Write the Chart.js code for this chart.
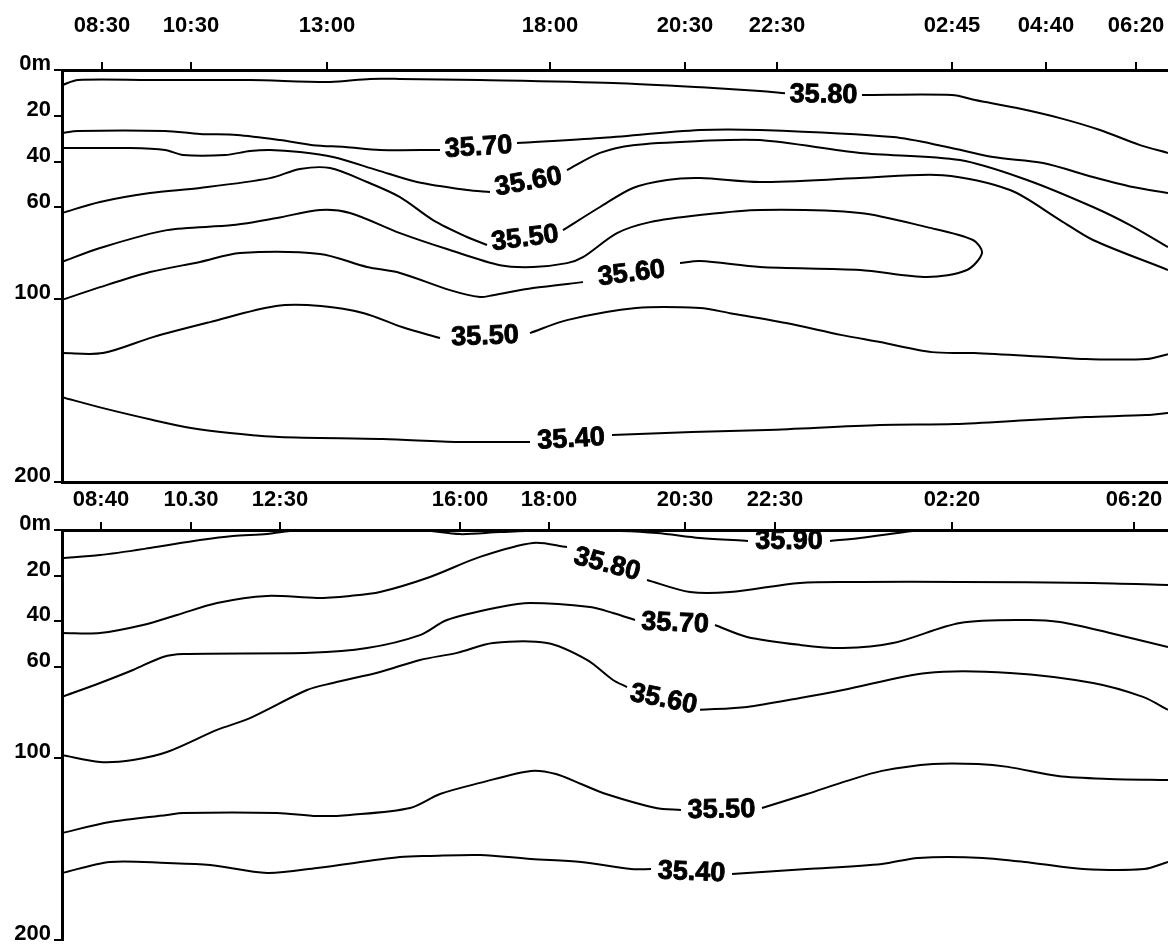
<!DOCTYPE html>
<html>
<head>
<meta charset="utf-8">
<script src="https://cdn.jsdelivr.net/npm/chart.js@4/dist/chart.umd.min.js"></script>
<style>
  html, body { margin: 0; padding: 0; background: #fff; }
  #wrap { position: relative; width: 1168px; height: 944px; overflow: hidden; }
  .panel { position: absolute; left: 0; width: 1168px; }
  #top { top: 0; height: 485px; }
  #bottom { top: 485px; height: 459px; }
</style>
</head>
<body>
<div id="wrap">
  <div class="panel" id="top"><canvas id="topChart" width="1168" height="485"></canvas></div>
  <div class="panel" id="bottom"><canvas id="bottomChart" width="1168" height="459"></canvas></div>
</div>
<script>
// station positions along the section (arbitrary distance units) and their times
const topTickPos = [4.0, 12.9, 26.5, 48.8, 62.3, 71.5, 89.0, 98.4, 107.4];
const topTickTimes = ['08:30', '10:30', '13:00', '18:00', '20:30', '22:30', '02:45', '04:40', '06:20'];
const bottomTickPos = [3.9, 12.9, 21.8, 39.8, 48.7, 62.3, 71.3, 89.0, 107.2];
const bottomTickTimes = ['08:40', '10.30', '12:30', '16:00', '18:00', '20:30', '22:30', '02:20', '06:20'];
const depthTicks = [0, 20, 40, 60, 100, 200];

// salinity contours as [distance, depth m]; null = gap where the level is written
const top3580 = [[0,6.6],[1.6,4.4],[8.8,4.4],[18.8,4.4],[26.8,5.2],[30.8,3.9],[33.8,3.9],[41.8,4.4],[55.1,5.7],[65.1,7.9],[69.8,9.2],[72.3,10.1],null,[80.0,10.9],[89.0,10.9],[91.3,13.1],[95.5,16.6],[99.8,21.0],[103.8,26.2],[107.8,32.8],[110.6,36.2]];
const top3570 = [[0,27.5],[1.6,26.6],[10.3,26.6],[13.8,27.9],[17.5,28.4],[21.8,30.6],[25.1,32.8],[28.3,33.6],[31.8,34.9],[37.8,34.9],null,[45.5,31.9],[53.8,29.7],[63.8,26.2],[69.8,26.2],[83.1,29.3],[88.5,33.6],[93.1,38.0],[98.1,40.6],[103.1,46.7],[107.1,51.1],[110.6,53.7]];
const top3560a = [[0,34.1],[6.8,34.1],[10.3,34.9],[12.1,37.1],[16.3,37.1],[18.8,35.4],[20.8,34.9],[23.8,35.8],[27.1,38.0],[31.5,43.7],[35.5,48.9],[40.5,52.4],[42.8,53.3],null,[50.5,43.7],[53.8,36.2],[57.1,32.8],[63.8,31.0],[69.8,30.6],[79.8,36.2],[89.8,39.3],[96.5,48.0],[103.1,59.8],[106.8,67.7],[110.6,77.3]];
const top3550a = [[0,62.4],[3.8,57.6],[8.8,53.7],[13.8,51.5],[20.8,47.2],[23.8,43.2],[26.8,42.8],[30.5,48.9],[33.8,55.5],[37.1,65.5],[40.5,72.9],[42.5,76.4],null,[50.1,69.9],[53.8,59.8],[57.1,51.5],[60.5,48.0],[63.8,47.2],[69.8,48.9],[79.8,47.2],[88.1,45.9],[94.8,52.4],[99.8,65.5],[103.1,74.2],[110.6,87.3]];
const top3560b = [[0,83.8],[3.8,77.7],[10.5,69.9],[17.1,67.7],[21.5,64.6],[25.8,61.1],[28.8,62.4],[33.8,71.2],[38.8,78.6],[43.8,85.2],[47.1,86.0],[50.5,84.3],[52.1,81.7],[55.5,71.2],[58.8,66.4],[63.8,63.3],[69.8,61.1],[79.8,62.4],[86.5,68.6],[91.1,74.2],[92.0,79.9],[90.5,87.3],[86.5,90.4],[79.8,87.3],[69.8,86.0],[63.8,83.4],[61.8,84.3],null,[52.1,92.6],[47.1,95.2],[43.1,98.3],[41.8,99.1],[38.8,96.1],[33.8,88.6],[30.5,86.0],[25.8,80.3],[17.8,79.9],[13.8,83.8],[8.8,88.2],[3.8,94.8],[0,100.5]];
const top3550b = [[0,129.5],[4.1,129.5],[9.1,120.8],[14.8,112.6],[21.4,103.8],[25.9,103.8],[30.2,107.7],[34.0,115.3],[37.8,121.3],null,[46.8,118.6],[50.5,111.5],[57.4,104.9],[63.8,104.9],[66.8,107.7],[72.4,113.1],[78.0,119.7],[81.8,123.5],[87.0,129.0],[91.2,129.5],[98.7,131.7],[102.4,132.8],[108.4,132.8],[110.6,130.1]];
const top3540 = [[0,153.6],[4.1,159.6],[9.1,166.1],[12.9,170.5],[16.8,173.2],[21.7,175.4],[32.1,176.5],[39.7,178.1],[46.8,178.1],null,[55.0,174.3],[63.0,172.7],[70.5,171.6],[81.8,168.9],[89.3,168.3],[96.8,166.1],[102.4,164.5],[108.4,163.4],[110.6,162.3]];

const bot3590 = [[0,12.3],[3.8,11.0],[8.8,7.9],[13.8,4.4],[17.1,2.6],[20.5,1.8],[22.8,0.4],[26.8,0],[35.8,0],[39.8,1.8],[43.8,0.9],[49.8,0],[55.8,0.4],[59.5,1.3],[63.8,3.5],[68.6,4.8],null,[76.8,4.8],[79.8,3.5],[85.1,0.4],[86.8,0]];
const bot3580 = [[0,45.2],[3.8,45.2],[8.1,41.7],[11.5,37.3],[15.5,32.0],[20.5,28.9],[25.5,29.8],[28.8,28.9],[31.8,27.2],[36.8,20.6],[41.8,11.8],[47.1,5.7],[50.5,7.5],null,[58.5,21.9],[62.8,27.2],[66.8,27.2],[73.8,23.2],[79.8,22.8],[89.8,22.8],[103.1,23.2],[110.6,24.1]];
const bot3570 = [[0,73.2],[3.8,67.1],[7.1,61.4],[10.1,55.7],[12.1,54.4],[24.8,53.9],[30.5,51.8],[35.8,46.1],[38.5,39.5],[43.8,33.8],[46.8,32.0],[52.8,33.8],[55.1,36.4],[57.3,39.5],null,[65.3,41.7],[68.5,46.9],[73.8,50.4],[78.1,51.8],[83.1,49.6],[89.8,40.8],[96.5,39.5],[99.8,40.4],[104.8,45.2],[110.6,51.3]];
const bot3560 = [[0,98.7],[3.8,102.2],[7.1,101.1],[10.5,97.4],[15.5,87.7],[18.8,82.5],[24.5,70.2],[27.1,67.1],[31.8,62.3],[35.8,57.0],[39.5,53.9],[43.1,49.6],[48.5,49.6],[52.5,57.0],[55.1,65.8],[56.5,68.9],null,[63.8,78.9],[68.5,77.6],[73.8,73.7],[78.1,70.2],[86.5,62.7],[94.8,62.7],[103.1,67.1],[108.1,73.2],[110.6,78.9]];
const bot3550 = [[0,141.2],[4.8,135.2],[10.5,131.3],[12.1,130.2],[21.5,130.2],[25.5,131.9],[28.8,131.3],[34.8,127.5],[37.8,119.8],[41.8,113.7],[46.9,107.1],[49.4,108.8],[51.9,114.3],[54.4,119.8],[59.4,127.5],[61.9,128.6],null,[70.0,127.5],[74.5,119.8],[78.5,112.6],[82.0,107.1],[87.1,103.3],[91.6,103.3],[94.6,104.9],[99.6,109.9],[104.7,111.5],[110.6,112.1]];
const bot3540 = [[0,163.2],[4.8,157.1],[10.5,157.7],[14.8,158.8],[20.5,163.2],[25.5,160.4],[33.8,154.4],[36.8,153.8],[41.8,153.3],[46.9,155.5],[51.9,157.1],[56.9,161.0],[58.9,161.0],null,[67.0,163.7],[74.5,161.0],[82.0,158.2],[85.6,154.9],[92.1,154.9],[97.1,157.7],[102.1,161.0],[108.2,161.0],[110.6,157.1]];

const topContours = [[35.80, top3580], [35.70, top3570], [35.60, top3560a], [35.50, top3550a], [35.60, top3560b], [35.50, top3550b], [35.40, top3540]];
const bottomContours = [[35.90, bot3590], [35.80, bot3580], [35.70, bot3570], [35.60, bot3560], [35.50, bot3550], [35.40, bot3540]];

const FONT = '"Liberation Sans", Arial, sans-serif';
const SPLIT = 0.556; // share of the axis used by the upper 100 m

// depth axis: 0-100 m is stretched, 100-200 m compressed
class DepthScale extends Chart.LinearScale {
  getPixelForValue(value) {
    if (value === null || isNaN(value)) return NaN;
    const f = value <= 100 ? value / 100 * SPLIT : SPLIT + (value - 100) / 100 * (1 - SPLIT);
    return this.top + f * (this.bottom - this.top);
  }
  getValueForPixel(pixel) {
    const f = (pixel - this.top) / (this.bottom - this.top);
    return f <= SPLIT ? f / SPLIT * 100 : 100 + (f - SPLIT) / (1 - SPLIT) * 100;
  }
}
DepthScale.id = 'depth';
DepthScale.defaults = Chart.LinearScale.defaults;
Chart.register(DepthScale);

// writes the level into each gap of a contour, tilted a little along the line
const contourLabels = {
  id: 'contourLabels',
  afterDatasetsDraw(chart) {
    const ctx = chart.ctx;
    ctx.save();
    ctx.font = 'bold 27px ' + FONT;
    ctx.fillStyle = '#000';
    ctx.strokeStyle = '#000';
    ctx.lineWidth = 0.9;
    ctx.lineJoin = 'round';
    ctx.textAlign = 'center';
    ctx.textBaseline = 'middle';
    chart.data.datasets.forEach((ds, di) => {
      const pts = chart.getDatasetMeta(di).data;
      ds.data.forEach((p, i) => {
        if (p.y !== null) return;
        const a = pts[i - 1], b = pts[i + 1];
        const ang = Math.atan((b.y - a.y) / (b.x - a.x)) * 0.65;
        ctx.save();
        ctx.translate((a.x + b.x) / 2, (a.y + b.y) / 2 + 1);
        ctx.rotate(ang);
        ctx.fillText(ds.label, 0, 0);
        ctx.strokeText(ds.label, 0, 0);
        ctx.restore();
      });
    });
    ctx.restore();
  }
};

function noEdgePadding(s) {
  s.paddingLeft = 0;
  s.paddingRight = 0;
  s.paddingTop = 0;
  s.paddingBottom = 0;
}

function makeChart(id, contours, tickPos, tickTimes, axisHeight, labelPad, bottomPad, closeBottom) {
  const scales = {
    x: {
      type: 'linear', position: 'top', min: 0, max: 110.6,
      afterFit: s => { s.height = axisHeight; noEdgePadding(s); },
      afterBuildTicks: s => { s.ticks = tickPos.map(v => ({ value: v })); },
      ticks: {
        autoSkip: false, maxRotation: 0, padding: labelPad, color: '#000',
        font: { family: FONT, size: 22, weight: 'bold' },
        callback: (v, i) => tickTimes[i]
      },
      grid: { drawOnChartArea: false, drawTicks: true, tickLength: 8, color: '#000', lineWidth: 2 },
      border: { display: true, color: '#000', width: 3 }
    },
    y: {
      type: 'depth', position: 'left', min: 0, max: 200,
      afterFit: s => { s.width = 62; noEdgePadding(s); },
      afterBuildTicks: s => { s.ticks = depthTicks.map(v => ({ value: v })); },
      ticks: {
        autoSkip: false, padding: 3, labelOffset: -6, color: '#000',
        font: { family: FONT, size: 22, weight: 'bold' },
        callback: v => v === 0 ? '0m' : String(v)
      },
      grid: { drawOnChartArea: false, drawTicks: true, tickLength: 8, color: '#000', lineWidth: 2 },
      border: { display: true, color: '#000', width: 3 }
    }
  };
  if (closeBottom) {
    scales.xb = {
      type: 'linear', position: 'bottom', min: 0, max: 110.6,
      afterFit: s => { s.height = 0; noEdgePadding(s); },
      ticks: { display: false },
      grid: { display: false, drawTicks: false },
      border: { display: true, color: '#000', width: 3 }
    };
  }

  new Chart(document.getElementById(id), {
    type: 'line',
    data: {
      datasets: contours.map(([level, pts]) => ({
        label: level.toFixed(2),
        data: pts.map((p, i) => p ? { x: p[0], y: p[1] } : { x: (pts[i - 1][0] + pts[i + 1][0]) / 2, y: null }),
        borderColor: '#000',
        borderWidth: 2,
        pointRadius: 0,
        tension: 0.3,
        fill: false
      }))
    },
    options: {
      responsive: false,
      animation: false,
      events: [],
      layout: { padding: { left: 0, right: 0, top: 0, bottom: bottomPad } },
      plugins: { legend: { display: false }, tooltip: { enabled: false } },
      scales: scales
    },
    plugins: [contourLabels]
  });
}

makeChart('topChart', topContours, topTickPos, topTickTimes, 70, 23, 3, true);
makeChart('bottomChart', bottomContours, bottomTickPos, bottomTickTimes, 45, 9, 4, false);
</script>
</body>
</html>
